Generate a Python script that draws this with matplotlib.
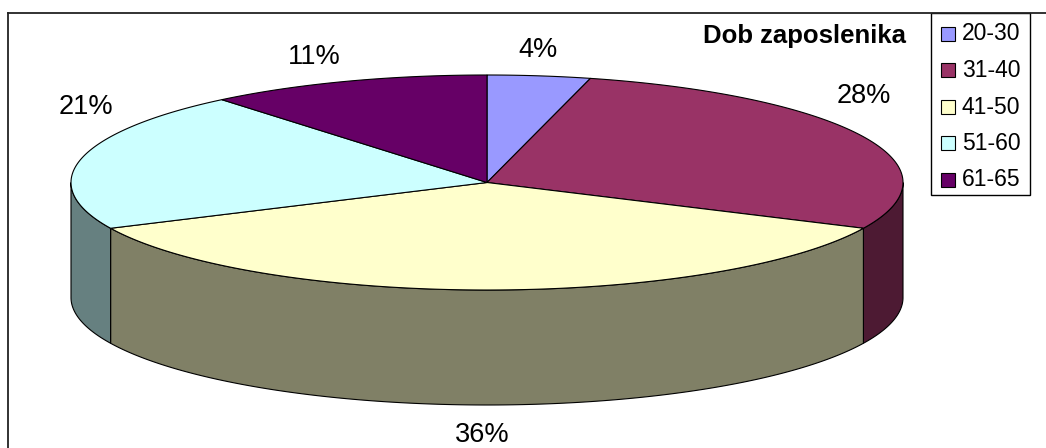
import numpy as np
import matplotlib
matplotlib.use("Agg")
import matplotlib.pyplot as plt
from matplotlib.patches import Polygon, Rectangle

# podaci
kategorije = ["20-30", "31-40", "41-50", "51-60", "61-65"]
postotci = [4, 28, 36, 21, 11]
boje = ["#9999FF", "#993366", "#FFFFCC", "#CCFFFF", "#660066"]

# geometrija 3D pite (pikseli)
cx, cy = 487, 182.5
a, b = 416, 107.5
dubina = 115

# pomak natpisa od ruba elipse na srednjem kutu
pomak_natpisa = [(-1, -26), (0, -41), (-5, 30), (5, -52), (-32, -24)]

plt.rcParams['font.family'] = ['Liberation Sans', 'DejaVu Sans']

fig = plt.figure(figsize=(10.46, 4.48), dpi=100)
ax = fig.add_axes([0, 0, 1, 1])
ax.set_xlim(0, 1046)
ax.set_ylim(448, 0)
ax.axis("off")


def tocka(t, dy=0.0):
    r = np.radians(t)
    return cx + a * np.sin(r), cy - b * np.cos(r) + dy


def tamnija(c):
    rgb = np.array(matplotlib.colors.to_rgb(c))
    return tuple(rgb * 0.5)


kutovi = np.concatenate([[0], np.cumsum(postotci) / sum(postotci) * 360])

# bocne stijenke (samo prednja polovica je vidljiva)
for i in range(len(postotci)):
    t0, t1 = kutovi[i], kutovi[i + 1]
    s0, s1 = max(t0, 90), min(t1, 270)
    if s1 <= s0:
        continue
    t = np.linspace(s0, s1, 200)
    xs, ys = tocka(t)
    gore = np.column_stack([xs, ys])
    dolje = np.column_stack([xs, ys + dubina])[::-1]
    ax.add_patch(Polygon(np.vstack([gore, dolje]), closed=True,
                         facecolor=tamnija(boje[i]), edgecolor="black", lw=0.8))

# gornja ploha
for i in range(len(postotci)):
    t = np.linspace(kutovi[i], kutovi[i + 1], 300)
    xs, ys = tocka(t)
    pts = np.vstack([[cx, cy], np.column_stack([xs, ys])])
    ax.add_patch(Polygon(pts, closed=True, facecolor=boje[i],
                         edgecolor="black", lw=0.8))

# natpisi s postotcima
for i, p in enumerate(postotci):
    sred = (kutovi[i] + kutovi[i + 1]) / 2
    x, y = tocka(sred)
    if 90 < sred < 270:
        y += dubina
    dx, dy = pomak_natpisa[i]
    ax.text(x + dx, y + dy, f"{p}%", fontsize=19.5, ha="center", va="center")

# naslov
ax.text(906, 36, "Dob zaposlenika", fontsize=18.5, fontweight="bold",
        ha="right", va="center")

# okvir grafikona
ax.plot([8, 1046], [13, 13], color="#222222", lw=1.3, clip_on=False)
ax.plot([8, 8], [13, 448], color="#222222", lw=1.3, clip_on=False)

# legenda
ax.add_patch(Rectangle((931, 13), 99, 182, facecolor="white",
                       edgecolor="black", lw=1.0))
for i, k in enumerate(kategorije):
    yy = 34 + i * 36.5
    ax.add_patch(Rectangle((941, yy - 7), 14, 14, facecolor=boje[i],
                           edgecolor="black", lw=0.8))
    ax.text(962, yy, k, fontsize=16.5, ha="left", va="center")

fig.savefig("out.png", dpi=100, facecolor="white")
